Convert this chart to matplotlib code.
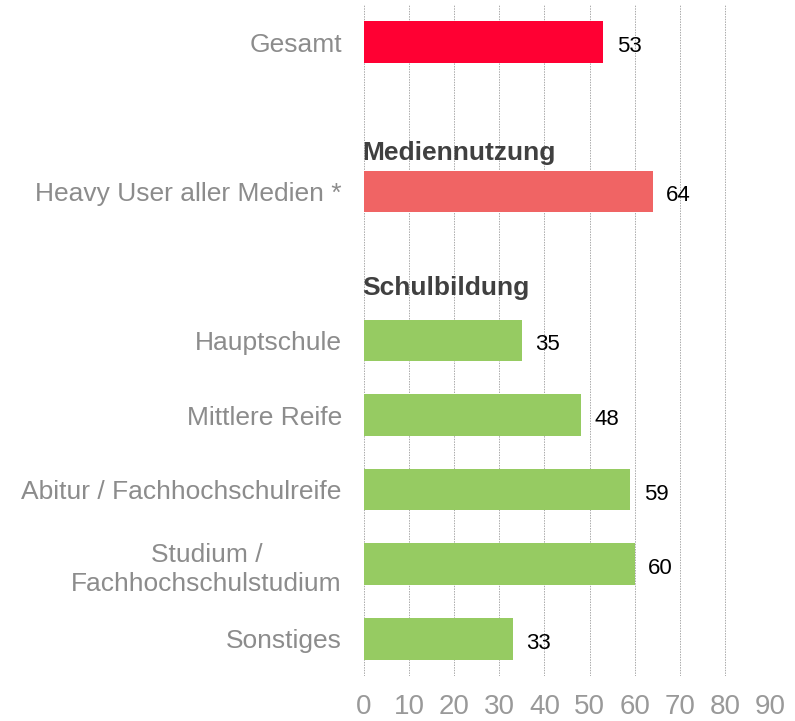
import matplotlib
matplotlib.use("Agg")
import matplotlib.pyplot as plt

plt.rcParams['font.family'] = ['Liberation Sans', 'DejaVu Sans']

categories = ["Gesamt", "Heavy User aller Medien *", "Hauptschule", "Mittlere Reife",
              "Abitur / Fachhochschulreife", "Studium /\nFachhochschulstudium", "Sonstiges"]
values = [53, 64, 35, 48, 59, 60, 33]
slots = [0, 2, 4, 5, 6, 7, 8]
colors = ["#FF0033", "#F06464", "#96CB62", "#96CB62", "#96CB62", "#96CB62", "#96CB62"]
headers = ["Mediennutzung", "Schulbildung"]
header_slots = [1.48, 3.3]
xticks = [0, 10, 20, 30, 40, 50, 60, 70, 80, 90]

fig = plt.figure(figsize=(7.95, 7.21), dpi=100)
ax = fig.add_axes([364/795, 1-676/721, (770-364)/795, (676-5)/721])

ax.barh(slots, values, height=0.56, color=colors, zorder=3)
for s, v in zip(slots, values):
    ax.text(v + 3.0, s + 0.06, str(v), va='center', ha='left', fontsize=16, color='black', zorder=4)
for h, s in zip(headers, header_slots):
    ax.text(-0.3, s, h, va='center', ha='left', fontsize=19, fontweight='bold', color='#404040', zorder=4)

ax.set_xlim(0, 90)
ax.set_ylim(8.5, -0.5)
ax.set_xticks(xticks)
ax.set_xticklabels([str(t) for t in xticks], fontsize=20, color='#999999')
ax.set_yticks(slots)
ax.set_yticklabels(categories, fontsize=19, color='#8C8C8C', linespacing=1.3)
ax.tick_params(axis='both', length=0)
ax.tick_params(axis='y', pad=16)
ax.tick_params(axis='x', pad=13)
for lab in ax.get_yticklabels():
    lab.set_multialignment('center')
for sp in ax.spines.values():
    sp.set_visible(False)
ax.grid(axis='x', color='#AAAAAA', linestyle=(0, (1.5, 1.2)), linewidth=0.7, zorder=0)
ax.set_axisbelow(True)

fig.savefig("out.png", dpi=100)
